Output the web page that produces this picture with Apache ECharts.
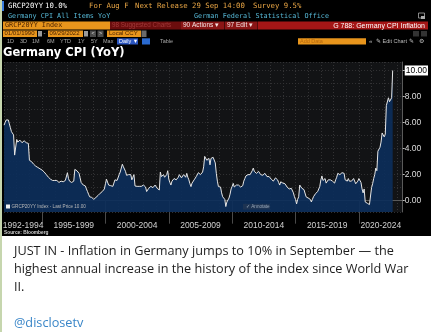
<!DOCTYPE html>
<html><head><meta charset="utf-8">
<script src="https://cdn.jsdelivr.net/npm/echarts@6/dist/echarts.min.js"></script>
<style>
html,body{margin:0;padding:0;width:431px;height:332px;overflow:hidden;background:#fff;}
#wrap{position:relative;width:431px;height:332px;background:linear-gradient(#000 0,#000 236px,#fff 236px);}
#chart{position:absolute;left:0;top:0;width:431px;height:332px;}
#edge{position:absolute;left:0;top:0;width:2px;height:332px;background:#c6d6ae;}
.tw{position:absolute;left:14px;font-family:'Open Sans',sans-serif;font-size:12.7px;color:#1e1e1e;white-space:nowrap;line-height:17.8px;}
</style></head>
<body><div id="wrap"><div id="chart"></div><div id="edge"></div>
<div class="tw" style="top:242px">JUST IN - Inflation in Germany jumps to 10% in September — the<br>highest annual increase in the history of the index since World War<br>II.</div>
<div class="tw" style="top:314px;color:#3a86c8">@disclosetv</div>
</div>
<script>
// ---- data: Germany CPI YoY (%), monthly, starting Jan 1992 ----
const startYear = 1992;
const p1992_1994 = [5.8, 6.0, 6.2, 6.25, 6.2, 5.9, 5.6, 5.3, 5.2, 5.05, 3.5, 3.4,
                    4.7, 4.5, 4.6, 4.65, 4.5, 4.45, 4.5, 4.6, 4.5, 4.45, 4.4, 4.4,
                    3.1, 3.05, 3.0, 2.9, 2.8, 2.75, 2.65, 2.6, 2.55, 2.5, 2.45, 2.4];
const p1995_1999 = [2.35, 2.3, 2.2, 2.1, 2.0, 1.9, 1.8, 1.7, 1.65, 1.6, 1.55, 1.45,
                    1.55, 1.5, 1.55, 1.45, 1.4, 1.45, 1.5, 1.5, 1.45, 1.5, 1.55, 1.6,
                    2.15, 1.7, 1.5, 1.4, 1.4, 1.45, 1.5, 2.4, 2.3, 2.3, 2.2, 2.1,
                    1.75, 1.4, 1.3, 1.2, 1.15, 1.13, 0.9, 0.7, 0.5, 0.3, 0.3, 0.25,
                    0.23, 0.1, 0.2, 0.25, 0.3, 0.4, 0.5, 0.57, 0.65, 0.7, 0.77, 0.9];
const p2000_2004 = [1.3, 1.65, 1.6, 1.2, 1.05, 1.15, 1.2, 1.1, 1.35, 1.6, 1.5, 1.55,
                    1.65, 2.0, 2.2, 2.35, 2.8, 2.6, 2.5, 2.25, 1.95, 1.85, 2.0, 2.15,
                    2.0, 1.6, 1.8, 2.0, 1.13, 1.1, 1.1, 1.15, 1.1, 1.1, 1.1, 1.2,
                    1.2, 1.15, 1.05, 0.7, 0.8, 0.95, 1.0, 1.1, 0.95, 1.0, 1.1, 1.2,
                    1.05, 0.95, 0.85, 0.82, 2.2, 1.85, 1.95, 2.0, 1.8, 1.9, 2.0, 2.3];
const p2005_2009 = [1.65, 1.4, 1.2, 1.5, 1.6, 1.7, 1.65, 1.6, 1.6, 1.8, 2.0, 1.85,
                    1.75, 1.6, 2.0, 1.9, 1.8, 2.1, 1.8, 1.6, 1.3, 1.08, 1.35, 1.5,
                    1.6, 1.7, 1.85, 2.0, 2.15, 2.05, 2.0, 2.0, 2.2, 2.6, 3.4, 3.3,
                    3.1, 3.2, 3.25, 2.75, 3.25, 3.3, 3.33, 3.2, 2.9, 2.1, 1.5, 1.08,
                    1.0, 1.05, 0.6, 0.3, 0.2, 0.1, -0.45, -0.1, 0.0, 0.2, 0.5, 0.9];
const p2010_2014 = [1.1, 1.33, 1.05, 1.1, 1.2, 1.15, 1.2, 1.1, 1.05, 1.1, 1.15, 1.5,
                    1.7, 1.9, 2.0, 2.0, 2.0, 2.0, 2.15, 2.3, 2.5, 2.25, 2.2, 2.1,
                    2.1, 2.25, 2.1, 2.0, 1.95, 1.95, 2.0, 2.1, 1.95, 1.85, 2.0, 1.85,
                    1.7, 1.65, 1.6, 1.5, 1.6, 1.75, 1.9, 1.6, 1.4, 1.2, 1.45, 1.4,
                    1.35, 1.45, 1.3, 1.2, 1.05, 0.95, 0.9, 0.9, 0.95, 0.85, 0.6, 0.3];
const p2015_2019 = [0.1, -0.25, 0.1, 0.3, 1.2, 1.1, 0.95, 0.8, 0.85, 0.95, 0.3, 0.25,
                    0.2, 0.3, 0.1, -0.1, 0.1, 0.3, 0.45, 0.55, 0.6, 0.7, 0.75, 1.1,
                    1.6, 1.9, 1.55, 1.6, 1.7, 1.35, 1.5, 1.6, 1.5, 1.6, 1.7, 1.5,
                    1.45, 1.35, 1.6, 1.8, 2.1, 2.0, 2.0, 2.05, 2.15, 2.25, 2.1, 1.6,
                    1.5, 1.5, 1.7, 1.5, 1.35, 1.5, 1.6, 1.7, 1.55, 1.3, 1.15, 1.5];
const p2020_2022 = [1.7, 1.7, 1.4, 0.9, 0.6, 0.9, -0.1, 0.0, -0.2, -0.2, -0.3, -0.3,
                    1.0, 1.3, 1.7, 2.0, 2.5, 2.3, 3.8, 3.9, 4.1, 4.5, 5.2, 5.3,
                    4.9, 5.1, 7.3, 7.4, 7.9, 7.6, 7.5, 7.9, 10.0];
const periodLabels = ['1992-1994', '1995-1999', '2000-2004', '2005-2009', '2010-2014', '2015-2019', '2020-2024'];
const periodStarts = [1992, 1995, 2000, 2005, 2010, 2015, 2020];
const yTickValues = [0, 2, 4, 6, 8, 10];

// ---- build ----
const monthly = [].concat(p1992_1994, p1995_1999, p2000_2004, p2005_2009, p2010_2014, p2015_2019, p2020_2022);
const seriesData = monthly.map((v, i) => [startYear + i / 12, v]);
const lastPrice = monthly[monthly.length - 1];
const xMin = 1992, xMax = 2023.46, yMin = -0.87, yMax = 10.65;
const centers = periodStarts.map((s, i) => (s + Math.min(i + 1 < periodStarts.length ? periodStarts[i + 1] : 9999, xMax)) / 2);

const MONO = '"DejaVu Sans Mono", monospace';
const SANS = '"Liberation Sans", Arial, sans-serif';
const NARROW = '"Liberation Sans Narrow", "Arial Narrow", "Liberation Sans", sans-serif';
function R(x, y, w, h, fill) { return {type:'rect', z:100, silent:true, shape:{x:x, y:y, width:w, height:h}, style:{fill:fill}}; }
function T(x, y, text, fill, size, fam, opt) {
  opt = opt || {};
  return {type:'text', z:101, silent:true, x:x, y:y,
    style:{text:text, fill:fill, font:(opt.bold ? 'bold ' : '') + size + 'px ' + (fam || SANS),
      align:opt.align || 'left', verticalAlign:'middle'}};
}
const OR = '#e8951c', ORT = '#e8a545', TEAL = '#55b6d4';
const els = [
  R(1, 1, 3, 10, '#3b7ddd'),
  T(8, 6.5, 'GRCP20YY', '#ffffff', 7.3, MONO),
  T(45, 6.5, '10.0%', '#ffffff', 7.3, MONO),
  T(89, 6.5, 'For Aug F', ORT, 7.3, MONO),
  T(135, 6.5, 'Next Release 29 Sep 14:00', ORT, 7.3, MONO),
  T(253, 6.5, 'Survey 9.5%', ORT, 7.3, MONO),
  T(8, 16, 'Germany CPI All Items YoY', TEAL, 6.8, MONO),
  T(194, 16, 'German Federal Statistical Office', TEAL, 6.8, MONO),
  {type:'rect', z:100, silent:true, shape:{x:418.5, y:13, width:6, height:5}, style:{fill:'none', stroke:'#aaa', lineWidth:0.8}},
  R(421, 16, 4, 3, '#aaa'),
  R(3, 21.5, 107, 8, OR), T(5, 25.6, 'GRCP20YY Index', '#4a2200', 6.8, MONO),
  R(110, 21.5, 71, 8, '#6b0d0d'), T(112, 25.6, '98 Suggested Charts', '#a23a3a', 6.3, SANS),
  R(181, 21.5, 43, 8, '#8a1515'), T(183, 25.6, '90 Actions \u25BE', '#f3e3e3', 6.5, SANS),
  R(224.5, 21.5, 32.5, 8, '#8a1515'), T(227, 25.6, '97 Edit \u25BE', '#f3e3e3', 6.5, SANS),
  R(257.5, 21.5, 170.5, 8, '#a51616'), T(425, 25.6, 'G 788: Germany CPI Inflation', '#ffffff', 7, SANS, {align:'right'}),
  R(3, 30.5, 34, 6.5, OR), T(4.5, 33.8, '01/01/1990', '#4a2200', 6, SANS),
  R(38, 31, 4, 5.5, '#9a9a9a'), T(43.5, 33.8, '-', '#ccc', 6, SANS),
  R(48, 30.5, 35, 6.5, OR), T(49.5, 33.8, '09/29/2022', '#4a2200', 6, SANS),
  R(84, 31, 4, 5.5, '#9a9a9a'),
  R(90, 30.5, 6, 6.5, '#4a4a4a'), T(93, 33.8, '<', '#ddd', 5.5, SANS, {align:'center'}),
  R(97.5, 30.5, 6, 6.5, '#4a4a4a'), T(100.5, 33.8, '>', '#ddd', 5.5, SANS, {align:'center'}),
  R(107, 30.5, 34, 6.5, OR), T(109, 33.8, 'Local CCY', '#4a2200', 6, SANS),
  R(141.5, 30.5, 5, 6.5, '#6a6a6a'),
  R(413, 31, 6, 5.5, '#333'), R(421, 31, 6, 5.5, '#333'),
  T(7, 41.5, '1D', '#a8a8a8', 5.5), T(20, 41.5, '3D', '#a8a8a8', 5.5), T(32, 41.5, '1M', '#a8a8a8', 5.5),
  T(47, 41.5, '6M', '#a8a8a8', 5.5), T(60, 41.5, 'YTD', '#a8a8a8', 5.5), T(78, 41.5, '1Y', '#a8a8a8', 5.5),
  T(91, 41.5, '5Y', '#a8a8a8', 5.5), T(103, 41.5, 'Max', '#a8a8a8', 5.5),
  R(117, 38.3, 21, 6.2, '#2a55c0'), T(119, 41.5, 'Daily \u25BC', '#fff', 5.5),
  R(142, 38.3, 8, 6.2, '#2a6ad0'),
  T(160, 41.5, 'Table', '#a8a8a8', 5.5),
  R(298, 38.3, 68, 6.2, OR), T(300, 41.5, 'Add Data', '#b5680e', 5.5),
  T(369, 41.5, '\u00AB', '#bbb', 6), T(376, 41.5, '\u270E Edit Chart', '#bbb', 5.5),
  T(409, 41.5, '\u270E', '#bbb', 5.5), T(419, 41.5, '\u2699', '#bbb', 6),
  T(3, 53.5, 'Germany CPI (YoY)', '#ffffff', 11.5, '"DejaVu Sans", sans-serif', {bold:true}),
  R(6, 204.5, 4, 4, '#f0f0f0'),
  T(11.5, 206.7, 'GRCP20YY Index - Last Price ' + lastPrice.toFixed(2), '#b8b8b8', 4.6, SANS),
  R(243, 203.8, 27, 5.8, '#1d3352'), T(246, 206.7, '\u2713 Annotate', '#9aa8b8', 4.6, SANS),
  T(4, 232.5, 'Source: Bloomberg', '#cfcfcf', 4.8, SANS, {bold:true})
];

const chart = echarts.init(document.getElementById('chart'), null, {renderer:'canvas'});
const dotted = {type:[1, 2], color:'#333335', width:1};
chart.setOption({
  animation:false,
  backgroundColor:'transparent',
  grid:{left:2, right:23, top:62, bottom:120, show:true, backgroundColor:'#121315', borderWidth:0},
  xAxis:[
    {type:'value', min:xMin, max:xMax, interval:1,
     axisLine:{show:true, lineStyle:{color:'#5a5a5a'}}, axisTick:{show:false}, axisLabel:{show:false},
     splitLine:{show:true, lineStyle:dotted}},
    {type:'value', min:xMin, max:xMax, position:'bottom',
     axisLine:{show:false}, splitLine:{show:false},
     axisTick:{show:true, customValues:periodStarts.slice(1), length:23, lineStyle:{color:'#4a4a4a'}},
     axisLabel:{show:true, customValues:centers, margin:9, color:'#d0d0d0', fontSize:8.5, fontFamily:NARROW,
       formatter:function (v) {
         let best = 0;
         centers.forEach((c, i) => { if (Math.abs(c - v) < Math.abs(centers[best] - v)) best = i; });
         return periodLabels[best];
       }}}
  ],
  yAxis:[
    {type:'value', position:'right', min:yMin, max:yMax, splitNumber:11,
     axisLine:{show:true, lineStyle:{color:'#5a5a5a'}}, axisTick:{show:false}, axisLabel:{show:false},
     splitLine:{show:true, lineStyle:dotted}},
    {type:'value', position:'right', min:yMin, max:yMax,
     axisLine:{show:false}, splitLine:{show:false},
     axisTick:{show:true, customValues:yTickValues, length:2, lineStyle:{color:'#bbb'}},
     axisLabel:{show:true, customValues:yTickValues, margin:2, color:'#dcdcdc', fontSize:8.5, fontFamily:NARROW,
       formatter:function (v) { return v === lastPrice ? '{hl|' + v.toFixed(2) + '}' : v.toFixed(2); },
       rich:{hl:{backgroundColor:'#ffffff', color:'#000', padding:[1, 1, 0, 1], fontSize:8.5, fontFamily:NARROW}}}}
  ],
  series:[{
    type:'line', xAxisIndex:0, yAxisIndex:0, data:seriesData, symbol:'none', smooth:false,
    lineStyle:{color:'#e6e6e6', width:1},
    areaStyle:{color:'#0c2e5a', opacity:0.92, origin:'start'}
  }],
  graphic:{elements:els}
});
</script>
</body></html>
